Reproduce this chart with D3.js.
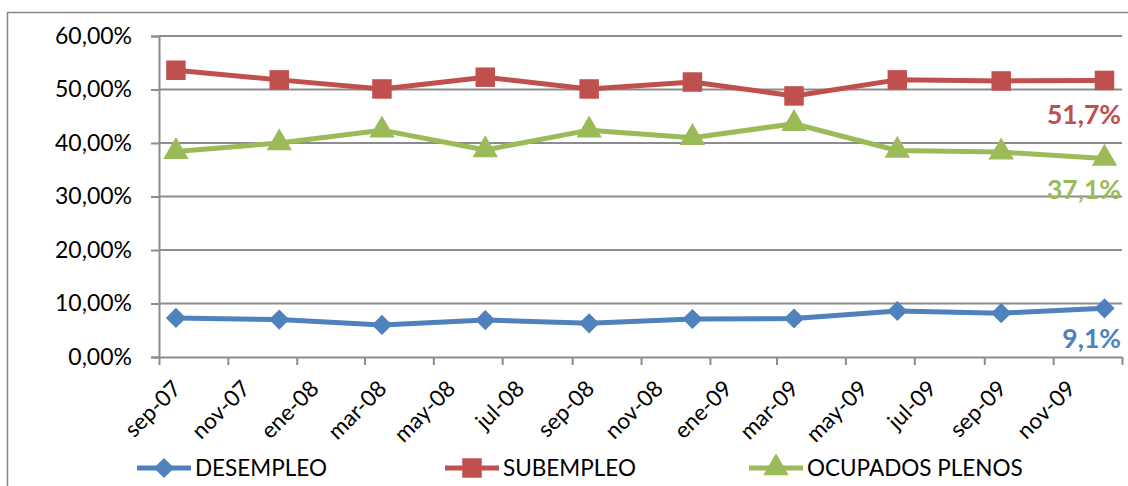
<!DOCTYPE html>
<html><head><meta charset="utf-8">
<script src="https://cdn.jsdelivr.net/npm/d3@7"></script>
<style>
html,body{margin:0;padding:0;background:#fff;}
svg{display:block;}
text{font-family:Lato,"Open Sans",sans-serif;}
</style></head>
<body>
<svg id="chart" width="1128" height="486"></svg>
<script>
// ---- data ----
const months = ["2007-09","2007-12","2008-03","2008-06","2008-09","2008-12","2009-03","2009-06","2009-09","2009-12"];
const desempleo = [7.3, 7.0, 6.0, 6.9, 6.3, 7.1, 7.2, 8.6, 8.2, 9.1];
const subempleo = [53.6, 51.8, 50.1, 52.3, 50.1, 51.4, 48.8, 51.8, 51.6, 51.7];
const ocupados = [38.4, 40.0, 42.4, 38.7, 42.4, 41.0, 43.6, 38.6, 38.3, 37.1];
const seriesNames = ["DESEMPLEO","SUBEMPLEO","OCUPADOS PLENOS"];
const lastLabels = ["9,1%","51,7%","37,1%"];
const yTicks = [0,10,20,30,40,50,60];
const xTickLabels = ["sep-07","nov-07","ene-08","mar-08","may-08","jul-08","sep-08","nov-08","ene-09","mar-09","may-09","jul-09","sep-09","nov-09",""];

const colors = ["#4F81BD","#C0504D","#9BBB59"];
const svg = d3.select("#chart");
const L=159, R=1122, T=36, B=357;
const parse = d3.timeParse("%Y-%m");
const x = d3.scaleTime().domain([parse("2007-09"), parse("2010-01")]).range([L,R]);
const y = d3.scaleLinear().domain([0,60]).range([B,T]);
const mid = m => { const d=parse(m); return (x(d)+x(d3.timeMonth.offset(d,1)))/2; };

// outer border
svg.append("rect").attr("x",7.5).attr("y",12.5).attr("width",1130).attr("height",480)
  .attr("fill","none").attr("stroke","#868686").attr("stroke-width",1.5);

// gridlines
svg.append("g").selectAll("line").data(yTicks.filter(v=>v>0)).join("line")
  .attr("x1",L).attr("x2",R).attr("y1",d=>y(d)).attr("y2",d=>y(d))
  .attr("stroke","#8c8c8c").attr("stroke-width",2);

// y axis
const yAxis = svg.append("g").attr("transform",`translate(${L},0)`)
  .call(d3.axisLeft(y).tickValues(yTicks).tickSize(8).tickPadding(19)
    .tickFormat(d=>d.toFixed(2).replace(".",",")+"%"));
yAxis.select(".domain").attr("stroke","#8c8c8c").attr("stroke-width",2);
yAxis.selectAll(".tick line").attr("stroke","#8c8c8c").attr("stroke-width",2);
yAxis.selectAll("text").attr("font-size",23).attr("fill","#000").style("font-family","Lato");

// x axis
const xTicks = d3.timeMonth.every(2).range(parse("2007-09"), d3.timeMonth.offset(parse("2010-01"),1));
const xAxis = svg.append("g").attr("transform",`translate(0,${B})`)
  .call(d3.axisBottom(x).tickValues(xTicks).tickSize(8).tickSizeOuter(0)
    .tickFormat((d,i)=>xTickLabels[i]||""));
xAxis.select(".domain").attr("stroke","#8c8c8c").attr("stroke-width",2);
xAxis.selectAll(".tick line").attr("stroke","#8c8c8c").attr("stroke-width",2);
xAxis.selectAll("text").attr("font-size",22.5).attr("fill","#000").style("font-family","Lato")
  .attr("text-anchor","end").attr("dy",0).attr("y",0)
  .attr("transform","translate(23,33) rotate(-45)");

// series
const allSeries = [desempleo, subempleo, ocupados];
const line = d3.line().x((d,i)=>mid(months[i])).y(d=>y(d));
const diamond = d3.symbol().type(d3.symbolDiamond2).size(260);
const square = d3.symbol().type(d3.symbolSquare).size(380);
const tri = d3.symbol().type(d3.symbolTriangle).size(280);
const syms = [diamond, square, tri];

allSeries.forEach((s,k)=>{
  const g = svg.append("g");
  g.append("path").datum(s).attr("d",line).attr("fill","none")
    .attr("stroke",colors[k]).attr("stroke-width",5).attr("stroke-linejoin","round");
  g.selectAll("path.m").data(s).join("path").attr("class","m")
    .attr("transform",(d,i)=>`translate(${mid(months[i])},${y(d)})`)
    .attr("d",syms[k]()).attr("fill",colors[k]);
});

// end labels
const labelOffsets = [40, 44, 40];
allSeries.forEach((s,k)=>{
  const v = s[s.length-1];
  svg.append("text").attr("x",R-1).attr("y",y(v)+labelOffsets[k])
    .attr("text-anchor","end").attr("font-weight","bold").attr("font-size",26.5)
    .attr("fill",colors[k]).text(lastLabels[k]);
});

// legend
const legX = [137, 445, 749];
const leg = svg.append("g");
seriesNames.forEach((n,k)=>{
  const g = leg.append("g").attr("transform",`translate(${legX[k]},468)`);
  g.append("line").attr("x1",0).attr("x2",54).attr("stroke",colors[k]).attr("stroke-width",5);
  g.append("path").attr("transform","translate(27,0)").attr("d",syms[k]()).attr("fill",colors[k]);
  g.append("text").attr("x",58).attr("y",0).attr("dy","0.35em").attr("font-size",22.5)
    .attr("fill","#000").text(n);
});
</script>
</body></html>
